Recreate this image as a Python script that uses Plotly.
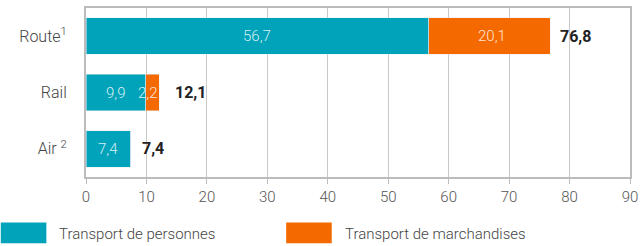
import plotly.graph_objects as go

categories = ["Route<sup>1</sup>", "Rail", "Air <sup>2</sup>"]
personnes = [56.7, 9.9, 7.4]
marchandises = [20.1, 2.2, 0.0]
totals = [76.8, 12.1, 7.4]
x_ticks = [0, 10, 20, 30, 40, 50, 60, 70, 80, 90]

def fr(v):
    return f"{v:.1f}".replace(".", ",")

TEAL = "#00A3B9"
ORANGE = "#F56A00"
FONT = "Roboto"

fig = go.Figure()
fig.add_trace(go.Bar(y=categories, x=personnes, orientation="h", marker_color=TEAL,
                     name="Transport de personnes", width=0.65, textposition="none",
                     showlegend=False, hoverinfo="skip"))
fig.add_trace(go.Bar(y=categories, x=marchandises, orientation="h", marker_color=ORANGE,
                     name="Transport de marchandises", width=0.65, textposition="none",
                     showlegend=False, hoverinfo="skip"))

ann = []
label_font = dict(family=FONT, size=15, color="rgba(255,255,255,0.85)", weight=300)
seg_shift = {"Route<sup>1</sup>": 3, "Rail": -4}
total_shift = {"Route<sup>1</sup>": 8, "Rail": 14, "Air <sup>2</sup>": 9}
for c, p, m, t in zip(categories, personnes, marchandises, totals):
    ann.append(dict(x=p / 2, y=c, text=fr(p), showarrow=False, font=label_font))
    if m > 0:
        ann.append(dict(x=p + m / 2, y=c, text=fr(m), showarrow=False, font=label_font,
                        xshift=seg_shift.get(c, 0)))
    ann.append(dict(x=p + m, y=c, text=f"<b>{fr(t)}</b>", showarrow=False,
                    xanchor="left", xshift=total_shift.get(c, 8),
                    font=dict(family=FONT, size=16, color="#222222")))

# custom legend
L, T, PW, PH = 86, 6, 549, 171
legend_items = [("Transport de personnes", TEAL), ("Transport de marchandises", ORANGE)]
shapes = []
lx = [0, 288]
for (name, col), x0 in zip(legend_items, lx):
    shapes.append(dict(type="rect", xref="paper", yref="paper",
                       x0=(x0 - L) / PW, x1=(x0 + 46 - L) / PW,
                       y0=(T + PH - 244) / PH, y1=(T + PH - 223) / PH,
                       fillcolor=col, line_width=0, layer="above"))
    ann.append(dict(xref="paper", yref="paper", x=(x0 + 57 - L) / PW,
                    y=(T + PH - 235) / PH, text=name, showarrow=False,
                    xanchor="left", yanchor="middle",
                    font=dict(family=FONT, size=15, color="#444444", weight=300)))

fig.update_layout(
    barmode="stack",
    width=644, height=246,
    margin=dict(l=L, r=644 - L - PW, t=T, b=246 - T - PH),
    paper_bgcolor="white", plot_bgcolor="white",
    annotations=ann, shapes=shapes,
    hovermode=False,
    xaxis=dict(range=[0, 90], tickvals=x_ticks, showgrid=True, gridcolor="#C8C8C8",
               gridwidth=1, showline=True, linecolor="#BBBBBB", linewidth=2, mirror=True,
               ticks="outside", ticklen=5, tickcolor="#BBBBBB", tickwidth=1,
               zeroline=False, fixedrange=True,
               tickfont=dict(family=FONT, size=15, color="#555555", weight=300)),
    yaxis=dict(categoryorder="array", categoryarray=categories[::-1],
               showline=True, linecolor="#BBBBBB", linewidth=2, mirror=True,
               ticks="", ticklabelstandoff=14, showgrid=False, fixedrange=True,
               tickfont=dict(family=FONT, size=16, color="#444444", weight=300)),
)

fig.write_html("out.html", config={"displayModeBar": False},
               post_script="document.body.style.margin='0';document.body.style.overflow='hidden';")
